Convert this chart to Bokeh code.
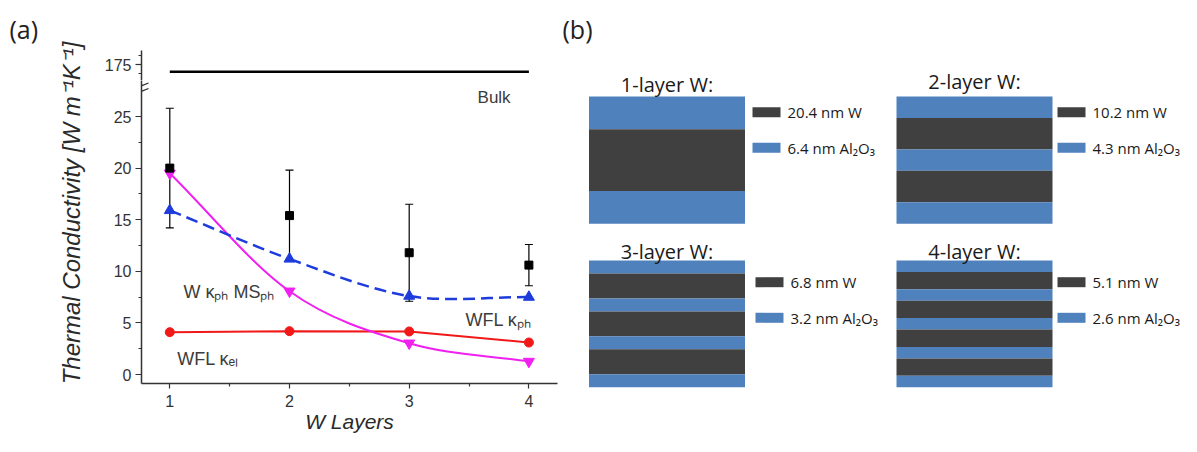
from bokeh.plotting import figure
from bokeh.layouts import row, column
from bokeh.models import FixedTicker, ColumnDataSource, Range1d, Arrow
from bokeh.embed import file_html
from bokeh.resources import INLINE
from bokeh.core.properties import value

# ---------------- data: panel (a) ----------------
layers = [1, 2, 3, 4]
measured = [20.0, 15.4, 11.8, 10.6]
measured_err = [5.8, 4.4, 4.7, 2.0]
wfl_kph = [15.9, 11.2, 7.6, 7.5]
w_kph_msph = [19.5, 8.07, 3.03, 1.26]
wfl_kel = [4.1, 4.2, 4.17, 3.1]
bulk_value = 173.0
x_ticks = [1, 2, 3, 4]
x_minor = [1.5, 2.5, 3.5]
y_ticks = [0, 5, 10, 15, 20, 25]
y_minor = [2.5, 7.5, 12.5, 17.5, 22.5]
y_ticks_upper = [175]
y_minor_upper = [172.5, 177.5]

# ---------------- data: panel (b) ----------------
stack_titles = ["1-layer W:", "2-layer W:", "3-layer W:", "4-layer W:"]
stack_w_labels = ["20.4 nm W", "10.2 nm W", "6.8 nm W", "5.1 nm W"]
stack_al_labels = ["6.4 nm Al\u2082O\u2083", "4.3 nm Al\u2082O\u2083",
                   "3.2 nm Al\u2082O\u2083", "2.6 nm Al\u2082O\u2083"]
stack_n_w = [1, 2, 3, 4]

# ---------------- styles / layout ----------------
FONT = "Liberation Sans"
FONT_B = "Open Sans"
AX = "#333333"
TXT = "#3c3c3c"
BLUE_L = "#4F81BD"
DARK_L = "#404040"

# drawn (schematic) layer heights in px for each stack
blue_h = [32.8, 21.4, 13.0, 11.5]
dark_h = [61.7, 31.5, 24.9, 17.3]
stack_left = [588.5, 896, 588.5, 896]
stack_top = [96, 96, 260, 260]
stack_w = 156
title_base = [84, 81, 251, 251]
legend_x = [752, 1057, 755, 1057]
legend_dark_y = [111.7, 111.7, 281.7, 281.7]
legend_blue_y = [147.3, 147.3, 317.3, 317.3]


def hermite_bezier(xs, ys):
    n = len(xs)
    mx, my = [], []
    for i in range(n):
        if i == 0:
            mx.append(xs[1] - xs[0]); my.append(ys[1] - ys[0])
        elif i == n - 1:
            mx.append(xs[-1] - xs[-2]); my.append(ys[-1] - ys[-2])
        else:
            mx.append((xs[i + 1] - xs[i - 1]) / 2); my.append((ys[i + 1] - ys[i - 1]) / 2)
    return dict(
        x0=xs[:-1], y0=ys[:-1], x1=xs[1:], y1=ys[1:],
        cx0=[xs[i] + mx[i] / 3 for i in range(n - 1)],
        cy0=[ys[i] + my[i] / 3 for i in range(n - 1)],
        cx1=[xs[i + 1] - mx[i + 1] / 3 for i in range(n - 1)],
        cy1=[ys[i + 1] - my[i + 1] / 3 for i in range(n - 1)],
    )


def style_fig(p):
    p.outline_line_color = None
    p.background_fill_color = "white"
    p.border_fill_color = "white"
    p.xgrid.grid_line_color = None
    p.ygrid.grid_line_color = None


def style_axis(ax, ticks, minor):
    ax.ticker = FixedTicker(ticks=ticks, minor_ticks=minor)
    ax.axis_line_color = AX
    ax.axis_line_width = 1.5
    ax.major_tick_line_color = AX
    ax.minor_tick_line_color = AX
    ax.major_tick_line_width = 1.2
    ax.minor_tick_line_width = 1.2
    ax.major_tick_in = 0
    ax.minor_tick_in = 0
    ax.major_label_text_font = FONT
    ax.major_label_text_font_size = "16px"
    ax.major_label_text_color = AX


PX_X = 119.7   # px per layer unit
PX_Y = 10.32   # px per W/mK unit (lower part)
x_start = 1 - 28.3 / PX_X
x_end = x_start + 416 / PX_X
xr = Range1d(x_start, x_end)

# ---------------- upper part of broken axis ----------------
up = figure(width=472, height=80, x_range=xr, y_range=Range1d(170.56, 178.89),
            output_backend="svg", toolbar_location=None, x_axis_location=None,
            title=None, min_border_left=53, min_border_right=3,
            min_border_top=50, min_border_bottom=0)
style_fig(up)
style_axis(up.yaxis[0], y_ticks_upper, y_minor_upper)
up.yaxis[0].major_tick_out = 6
up.yaxis[0].minor_tick_out = 3
up.yaxis[0].major_label_standoff = 4
up.line(x=[layers[0], layers[-1]], y=[bulk_value, bulk_value], line_color="black", line_width=2.5)

# ---------------- lower part ----------------
lo = figure(width=472, height=356, x_range=xr, y_range=Range1d(-0.872, 28.49),
            output_backend="svg", toolbar_location=None, title=None,
            min_border_left=53, min_border_right=3, min_border_top=0, min_border_bottom=53)
style_fig(lo)
style_axis(lo.yaxis[0], y_ticks, y_minor)
lo.yaxis[0].major_tick_out = 6
lo.yaxis[0].minor_tick_out = 3
lo.yaxis[0].major_label_standoff = 4
style_axis(lo.xaxis[0], x_ticks, x_minor)
lo.xaxis[0].major_tick_out = 5
lo.xaxis[0].minor_tick_out = 3
lo.xaxis[0].major_label_standoff = 6
lo.xaxis[0].axis_label = "W Layers"
lo.xaxis[0].axis_label_text_font = FONT
lo.xaxis[0].axis_label_text_font_style = "italic"
lo.xaxis[0].axis_label_text_font_size = "21px"
lo.xaxis[0].axis_label_text_color = "#2a2a2a"
lo.xaxis[0].axis_label_standoff = 0

# curves
lo.line(x=layers, y=wfl_kel, line_color="#F01818", line_width=2)
bz_m = ColumnDataSource(hermite_bezier(layers, w_kph_msph))
lo.bezier(x0="x0", y0="y0", x1="x1", y1="y1", cx0="cx0", cy0="cy0", cx1="cx1", cy1="cy1",
          source=bz_m, line_color="#F020F0", line_width=2)
bz_b = ColumnDataSource(hermite_bezier(layers, wfl_kph))
lo.bezier(x0="x0", y0="y0", x1="x1", y1="y1", cx0="cx0", cy0="cy0", cx1="cx1", cy1="cy1",
          source=bz_b, line_color="#1E3CDC", line_width=2.5, line_dash="12 6")

# error bars
err_lo = [m - e for m, e in zip(measured, measured_err)]
err_hi = [m + e for m, e in zip(measured, measured_err)]
lo.segment(x0=layers, y0=err_lo, x1=layers, y1=err_hi, line_color="black", line_width=1.2)
lo.scatter(x=layers + layers, y=err_lo + err_hi, marker="dash", size=8,
           line_color="black", line_width=1.2)

# markers
lo.scatter(x=layers, y=wfl_kel, marker="circle", size=9, fill_color="#F01818", line_color="#F01818")
lo.scatter(x=layers, y=w_kph_msph, marker="inverted_triangle", size=11,
           fill_color="#F020F0", line_color="#F020F0")
lo.scatter(x=layers, y=wfl_kph, marker="triangle", size=11, fill_color="#1E3CDC", line_color="#1E3CDC")
lo.scatter(x=layers, y=measured, marker="square", size=8, fill_color="black", line_color="black")

# annotations
lo.text(x=[3.571], y=[26.84], text=["Bulk"], text_font=value(FONT), text_font_size="17px",
        text_color=TXT, text_baseline="alphabetic", text_align="left")
lo.text(x=[1.114, 3.47, 1.062], y=[7.97, 5.3, 1.52],
        text=["W \u03ba\u209a\u2095 MS\u209a\u2095", "WFL \u03ba\u209a\u2095", "WFL \u03ba\u2091\u2097"],
        text_font=value(FONT), text_font_size="18px", text_color=TXT,
        text_baseline="alphabetic", text_align="left")

# axis break marks (two short slanted strokes across the axis)
for yb in (88.0, 93.5):
    lo.add_layout(Arrow(end=None, x_start=x_start - 7 / PX_X, y_start=(374 - yb) / PX_Y,
                        x_end=x_start + 7 / PX_X, y_end=(374 - (yb - 5.5)) / PX_Y,
                        line_color=AX, line_width=1.3))

# ---------------- label column: (a) + y label ----------------
lab = figure(width=88, height=436, x_range=Range1d(0, 88), y_range=Range1d(436, 0),
             output_backend="svg", toolbar_location=None, title=None,
             x_axis_location=None, y_axis_location=None, min_border=0)
style_fig(lab)
lab.text(x=[9], y=[28.5], text=["(a)"], text_font=value(FONT_B), text_font_size="25px",
         text_color="#222222", text_baseline="middle", text_align="left")
lab.text(x=[71], y=[212.5], text=["Thermal Conductivity [W m\u207b\u00b9K\u207b\u00b9]"],
         angle=1.5707963, text_font=value(FONT), text_font_style="italic",
         text_font_size="24px", text_color="#2a2a2a",
         text_baseline="middle", text_align="center")

# ---------------- panel (b) ----------------
pb = figure(width=621, height=436, x_range=Range1d(560, 1181), y_range=Range1d(436, 0),
            output_backend="svg", toolbar_location=None, title=None,
            x_axis_location=None, y_axis_location=None, min_border=0)
style_fig(pb)
pb.text(x=[562], y=[28.5], text=["(b)"], text_font=value(FONT_B), text_font_size="25px",
        text_color="#222222", text_baseline="middle", text_align="left")

ql, qr, qt, qb, qc = [], [], [], [], []
for k, n in enumerate(stack_n_w):
    y = stack_top[k]
    for j in range(2 * n + 1):
        h = blue_h[k] if j % 2 == 0 else dark_h[k]
        ql.append(stack_left[k]); qr.append(stack_left[k] + stack_w)
        qt.append(y); qb.append(y + h)
        qc.append(BLUE_L if j % 2 == 0 else DARK_L)
        y += h
    # legend swatches
    ql += [legend_x[k], legend_x[k]]
    qr += [legend_x[k] + 28, legend_x[k] + 28]
    qt += [legend_dark_y[k] - 5, legend_blue_y[k] - 5]
    qb += [legend_dark_y[k] + 5, legend_blue_y[k] + 5]
    qc += [DARK_L, BLUE_L]
pb.quad(left=ql, right=qr, top=qt, bottom=qb, fill_color=qc, line_color=None)

pb.text(x=[l + stack_w / 2 for l in stack_left], y=title_base, text=stack_titles,
        text_font=value(FONT_B), text_font_size="20px", text_color="#1a1a1a",
        text_baseline="alphabetic", text_align="center")
pb.text(x=[x + 35 for x in legend_x] * 2, y=legend_dark_y + legend_blue_y,
        text=stack_w_labels + stack_al_labels,
        text_font=value(FONT_B), text_font_size="15px", text_color="#1a1a1a",
        text_baseline="middle", text_align="left")

layout = row(lab, column(up, lo, spacing=0), pb, spacing=0)
open("out.html", "w").write(file_html(layout, INLINE))
